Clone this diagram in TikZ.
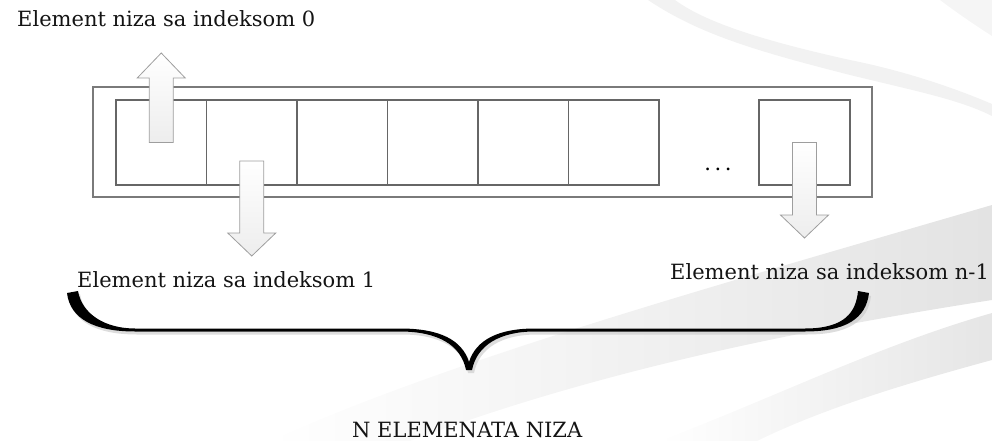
\documentclass[tikz,border=0pt]{standalone}
\usepackage{fontspec}
\setmainfont{DejaVu Serif}
\usepackage{tikz}
\usetikzlibrary{calc,positioning}

% block arrow: start, tip, head length (signed, canvas)
\newcommand\strelica[3]{%
\draw[blok] let \p1=(#1),\p2=(#2) in
 (\x1-12pt,\y1)--(\x1-12pt,\y2+#3)--(\x1-24pt,\y2+#3)--(\x2,\y2)
 --(\x1+24pt,\y2+#3)--(\x1+12pt,\y2+#3)--(\x1+12pt,\y1)--cycle;}
% the curly brace under the labels
\newcommand\zagrada[1]{%
\fill[#1] (67,293)--(78,291) .. controls (82,314) and (105,328.5) .. (135,328.5)
 --(400,328.5) .. controls (440,328.5) and (462,340) .. (469,362)
 .. controls (476,340) and (498,328.5) .. (535,328.5)
 --(805,328.5) .. controls (845,328.5) and (856,312) .. (858,291)
 --(869,293) .. controls (866,319) and (845,331.5) .. (805,331.5)
 --(535,331.5) .. controls (500,331.5) and (477,345) .. (472,370)
 --(466,370) .. controls (461,345) and (438,331.5) .. (400,331.5)
 --(135,331.5) .. controls (95,331.5) and (70,319) .. (67,293)--cycle;}

\begin{document}
\begin{tikzpicture}[x=1pt,y=-1pt,font=\fontsize{21}{24}\selectfont]
\tikzset{celija/.style={draw=black!60,line width=1.3pt,minimum width=90.5pt,
  minimum height=85pt,inner sep=0pt,outer sep=0pt},
okvir/.style={draw=black!52,line width=1.2pt,minimum width=779pt,minimum height=110pt,
  inner sep=0pt},
blok/.style={draw=black!38,line width=.8pt,top color=white,bottom color=black!7},
oznaka/.style={anchor=base west,inner sep=0pt,text=black!92}}
\useasboundingbox (0,0) rectangle (992,441);
% background swooshes
\fill[black!5] (648,0) .. controls (700,35) and (760,52) .. (850,75)
 .. controls (920,92) and (960,100) .. (992,116)--(992,104)
 .. controls (950,86) and (900,70) .. (850,60) .. controls (760,40) and (705,22) .. (675,0)--cycle;
\fill[black!4] (940,0) .. controls (960,15) and (975,25) .. (992,36)--(992,0)--cycle;
\shade[left color=white,right color=black!11] (270,441) .. controls (450,360) and (700,290) .. (992,205)
 --(992,300) .. controls (800,330) and (600,370) .. (410,441)--cycle;
\shade[left color=white,right color=black!10] (660,441) .. controls (780,395) and (880,345) .. (992,313)
 --(992,360) .. controls (900,385) and (820,410) .. (757,441)--cycle;
% array
\node[okvir] (niz) at (482.5,142) {};
\node[celija] (c1) at (161.25,142.5) {};
\foreach \i [count=\j from 2] in {1,...,5}
 {\node[celija,right=0pt of c\i] (c\j) {};}
\node[celija,minimum width=91pt] (cn) at (804.5,142.5) {};
\node[anchor=base,inner sep=0pt] (tri) at (718,170) {.\,.\,.};
% labels
\node[oznaka] (el0) at (17,27) {Element niza sa indeksom 0};
\node[oznaka] (el1) at (77,287) {Element niza sa indeksom 1};
\node[oznaka] (eln) at (670,279) {Element niza sa indeksom n-1};
\node[oznaka] (ukupno) at (352,437) {N ELEMENATA NIZA};
% arrows from the cells
\coordinate (v0) at ($(c1.center)+(0,-89.5)$);
\coordinate (p1) at ($(c2.center)+(0,18.5)$);
\coordinate (v1) at ($(c2.center)+(0,113.5)$);
\coordinate (vn) at ($(cn.center)+(0,95.5)$);
\strelica{c1.center}{v0}{-25pt}
\strelica{p1}{v1}{23pt}
\strelica{cn.center}{vn}{23pt}
% brace
\zagrada{black!22,opacity=.6,shift={(2,3)}}
\zagrada{black}
\end{tikzpicture}
\end{document}
